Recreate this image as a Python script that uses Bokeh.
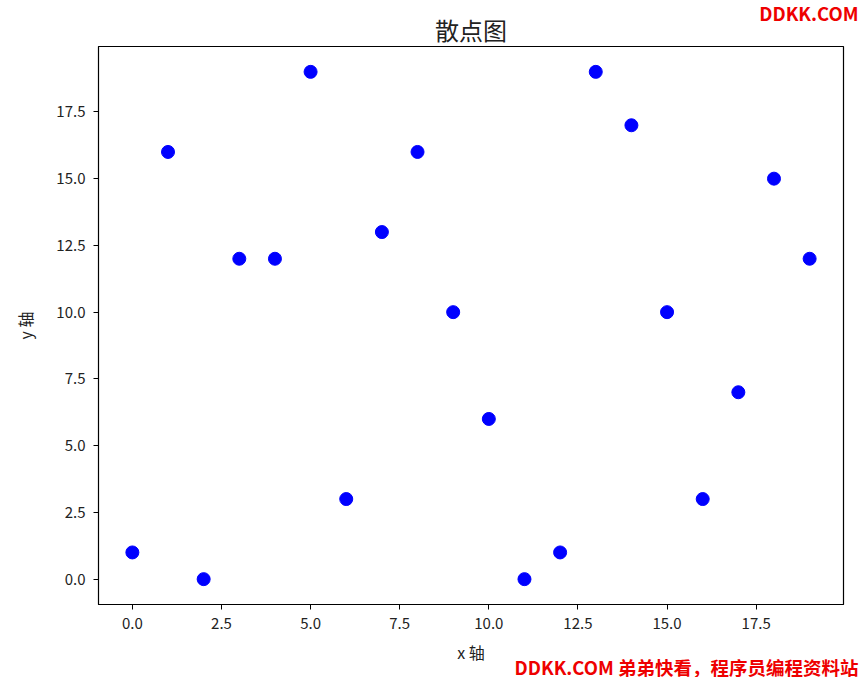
from bokeh.plotting import figure
from bokeh.models import Range1d, FixedTicker, Title
from bokeh.embed import file_html
from bokeh.resources import INLINE

x_vals = list(range(20))
y_vals = [1, 16, 0, 12, 12, 19, 3, 13, 16, 10, 6, 0, 1, 19, 17, 10, 3, 7, 15, 12]
x_ticks = [0.0, 2.5, 5.0, 7.5, 10.0, 12.5, 15.0, 17.5]
y_ticks = [0.0, 2.5, 5.0, 7.5, 10.0, 12.5, 15.0, 17.5]
x_tick_labels = ["0.0", "2.5", "5.0", "7.5", "10.0", "12.5", "15.0", "17.5"]
y_tick_labels = ["0.0", "2.5", "5.0", "7.5", "10.0", "12.5", "15.0", "17.5"]
title_text = "散点图"
x_label = "x 轴"
y_label = "y 轴"
watermark_top = "DDKK.COM"
watermark_bottom = "DDKK.COM 弟弟快看，程序员编程资料站"

FONT = "Noto Sans CJK SC"

p = figure(width=861, height=677, output_backend="svg", toolbar_location=None, title=None,
           x_range=Range1d(-0.95, 19.95), y_range=Range1d(-0.95, 19.95),
           min_border_left=98, min_border_right=18, min_border_top=46, min_border_bottom=73)

p.scatter(x_vals, y_vals, size=13, color="#0000ff", line_color="#0000ff")

p.xgrid.visible = False
p.ygrid.visible = False
p.outline_line_color = "black"
p.outline_line_width = 1.2
p.outline_line_alpha = 1
p.background_fill_color = "white"
p.border_fill_color = "white"

for ax, ticks, labels in ((p.xaxis[0], x_ticks, x_tick_labels), (p.yaxis[0], y_ticks, y_tick_labels)):
    ax.ticker = FixedTicker(ticks=ticks)
    ax.major_label_overrides = {t: l for t, l in zip(ticks, labels)}
    ax.minor_tick_line_color = None
    ax.major_tick_out = 5
    ax.major_tick_in = 0
    ax.major_tick_line_color = "black"
    ax.axis_line_color = "black"
    ax.major_label_text_font = FONT
    ax.major_label_text_font_size = "15px"
    ax.major_label_text_color = "#222222"
    ax.axis_label_text_font = FONT
    ax.axis_label_text_font_size = "16px"
    ax.axis_label_text_font_style = "normal"
    ax.axis_label_text_color = "#222222"
    ax.major_label_standoff = 8

p.xaxis[0].axis_label_standoff = 8
p.yaxis[0].axis_label_standoff = 16
p.xaxis.axis_label = x_label
p.yaxis.axis_label = y_label

# main title (closest to the frame)
p.add_layout(Title(text=title_text, align="center", vertical_align="middle", text_font=FONT,
                   text_font_size="24px", text_font_style="normal", text_color="#222222",
                   standoff=-3), "above")
# watermarks: negative standoff so they take almost no room and overlap neighbouring rows
p.add_layout(Title(text=watermark_top, align="right", vertical_align="middle", offset=-15,
                   standoff=-40, text_font=FONT, text_font_size="18.5px",
                   text_font_style="bold", text_color="#ee0000"), "above")
p.add_layout(Title(text=watermark_bottom, align="right", vertical_align="middle", offset=-15,
                   standoff=-32, text_font=FONT, text_font_size="18.5px",
                   text_font_style="bold", text_color="#ee0000"), "below")

open("out.html", "w").write(file_html(p, INLINE))
